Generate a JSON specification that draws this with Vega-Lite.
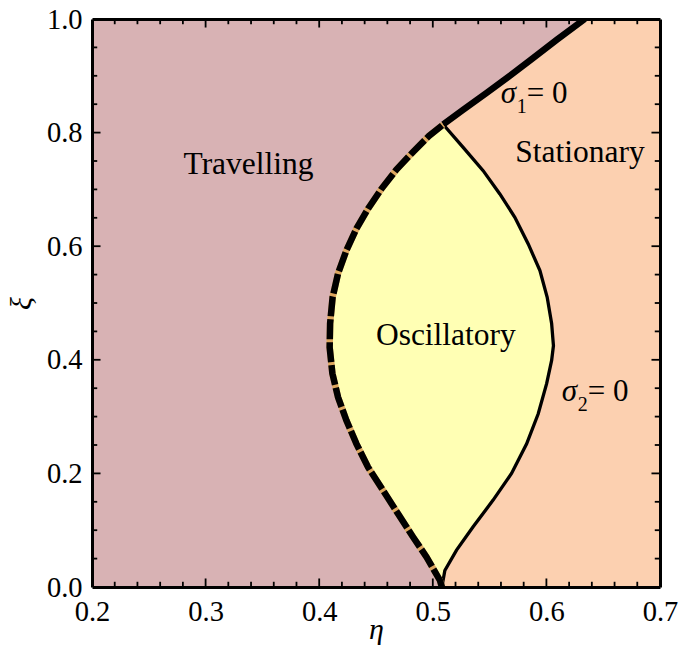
{
  "$schema": "https://vega.github.io/schema/vega-lite/v6.json",
  "width": 568,
  "height": 568,
  "autosize": {"type": "none"},
  "padding": {"left": 92, "top": 19, "right": 28, "bottom": 61},
  "background": "white",
  "config": {
    "font": "Liberation Serif",
    "view": {"stroke": null, "fill": "#d8b2b4"},
    "axis": {
      "grid": false,
      "domainColor": "black", "domainWidth": 3, "domainOpacity": 1,
      "labelFont": "Liberation Serif", "labelFontSize": 28.5, "labelColor": "black",
      "labelFlush": false, "labelOverlap": false,
      "titleFont": "Liberation Serif", "titleColor": "black", "titleFontWeight": "normal",
      "titleFontStyle": "italic", "titleFontSize": 30
    },
    "text": {"font": "Liberation Serif", "color": "black"}
  },
  "datasets": {
    "curves": [
      {"curve": "dashed", "eta": 0.508, "xi": 0.0},
      {"curve": "dashed", "eta": 0.5062, "xi": 0.012},
      {"curve": "dashed", "eta": 0.4944, "xi": 0.053},
      {"curve": "dashed", "eta": 0.4826, "xi": 0.088},
      {"curve": "dashed", "eta": 0.4694, "xi": 0.129},
      {"curve": "dashed", "eta": 0.4562, "xi": 0.170},
      {"curve": "dashed", "eta": 0.443, "xi": 0.211},
      {"curve": "dashed", "eta": 0.4328, "xi": 0.252},
      {"curve": "dashed", "eta": 0.424, "xi": 0.293},
      {"curve": "dashed", "eta": 0.4166, "xi": 0.334},
      {"curve": "dashed", "eta": 0.4116, "xi": 0.376},
      {"curve": "dashed", "eta": 0.4092, "xi": 0.422},
      {"curve": "dashed", "eta": 0.4096, "xi": 0.464},
      {"curve": "dashed", "eta": 0.4118, "xi": 0.510},
      {"curve": "dashed", "eta": 0.4166, "xi": 0.552},
      {"curve": "dashed", "eta": 0.424, "xi": 0.593},
      {"curve": "dashed", "eta": 0.4328, "xi": 0.631},
      {"curve": "dashed", "eta": 0.443, "xi": 0.666},
      {"curve": "dashed", "eta": 0.4548, "xi": 0.701},
      {"curve": "dashed", "eta": 0.468, "xi": 0.735},
      {"curve": "dashed", "eta": 0.4826, "xi": 0.766},
      {"curve": "dashed", "eta": 0.4966, "xi": 0.794},
      {"curve": "dashed", "eta": 0.5092, "xi": 0.8143},
      {"curve": "sigma2", "eta": 0.508, "xi": 0.0},
      {"curve": "sigma2", "eta": 0.5106, "xi": 0.029},
      {"curve": "sigma2", "eta": 0.5209, "xi": 0.065},
      {"curve": "sigma2", "eta": 0.5355, "xi": 0.106},
      {"curve": "sigma2", "eta": 0.5531, "xi": 0.153},
      {"curve": "sigma2", "eta": 0.5693, "xi": 0.200},
      {"curve": "sigma2", "eta": 0.5826, "xi": 0.252},
      {"curve": "sigma2", "eta": 0.5928, "xi": 0.305},
      {"curve": "sigma2", "eta": 0.6002, "xi": 0.358},
      {"curve": "sigma2", "eta": 0.6046, "xi": 0.399},
      {"curve": "sigma2", "eta": 0.6062, "xi": 0.425},
      {"curve": "sigma2", "eta": 0.6046, "xi": 0.464},
      {"curve": "sigma2", "eta": 0.6007, "xi": 0.510},
      {"curve": "sigma2", "eta": 0.5943, "xi": 0.557},
      {"curve": "sigma2", "eta": 0.584, "xi": 0.604},
      {"curve": "sigma2", "eta": 0.5722, "xi": 0.651},
      {"curve": "sigma2", "eta": 0.559, "xi": 0.692},
      {"curve": "sigma2", "eta": 0.5443, "xi": 0.733},
      {"curve": "sigma2", "eta": 0.5267, "xi": 0.774},
      {"curve": "sigma2", "eta": 0.5092, "xi": 0.8143},
      {"curve": "sigma1", "eta": 0.5092, "xi": 0.8143},
      {"curve": "sigma1", "eta": 0.5266, "xi": 0.8398},
      {"curve": "sigma1", "eta": 0.5477, "xi": 0.8703},
      {"curve": "sigma1", "eta": 0.568, "xi": 0.9002},
      {"curve": "sigma1", "eta": 0.5882, "xi": 0.931},
      {"curve": "sigma1", "eta": 0.6093, "xi": 0.9636},
      {"curve": "sigma1", "eta": 0.6338, "xi": 1.0}
    ],
    "xticks": [
      {"v": 0.22, "k": "minor"}, {"v": 0.24, "k": "minor"}, {"v": 0.26, "k": "minor"}, {"v": 0.28, "k": "minor"},
      {"v": 0.3, "k": "major"},
      {"v": 0.32, "k": "minor"}, {"v": 0.34, "k": "minor"}, {"v": 0.36, "k": "minor"}, {"v": 0.38, "k": "minor"},
      {"v": 0.4, "k": "major"},
      {"v": 0.42, "k": "minor"}, {"v": 0.44, "k": "minor"}, {"v": 0.46, "k": "minor"}, {"v": 0.48, "k": "minor"},
      {"v": 0.5, "k": "major"},
      {"v": 0.52, "k": "minor"}, {"v": 0.54, "k": "minor"}, {"v": 0.56, "k": "minor"}, {"v": 0.58, "k": "minor"},
      {"v": 0.6, "k": "major"},
      {"v": 0.62, "k": "minor"}, {"v": 0.64, "k": "minor"}, {"v": 0.66, "k": "minor"}, {"v": 0.68, "k": "minor"}
    ],
    "yticks": [
      {"v": 0.05, "k": "minor"}, {"v": 0.1, "k": "minor"}, {"v": 0.15, "k": "minor"},
      {"v": 0.2, "k": "major"},
      {"v": 0.25, "k": "minor"}, {"v": 0.3, "k": "minor"}, {"v": 0.35, "k": "minor"},
      {"v": 0.4, "k": "major"},
      {"v": 0.45, "k": "minor"}, {"v": 0.5, "k": "minor"}, {"v": 0.55, "k": "minor"},
      {"v": 0.6, "k": "major"},
      {"v": 0.65, "k": "minor"}, {"v": 0.7, "k": "minor"}, {"v": 0.75, "k": "minor"},
      {"v": 0.8, "k": "major"},
      {"v": 0.85, "k": "minor"}, {"v": 0.9, "k": "minor"}, {"v": 0.95, "k": "minor"}
    ],
    "regions": [
      {"label": "Travelling", "eta": 0.3378, "xi": 0.7276},
      {"label": "Stationary", "eta": 0.6295, "xi": 0.749},
      {"label": "Oscillatory", "eta": 0.5115, "xi": 0.4266}
    ],
    "sigmas": [
      {"name": "sigma1", "eta": 0.5598, "xi": 0.8516, "sub": "1"},
      {"name": "sigma2", "eta": 0.6135, "xi": 0.328, "sub": "2"}
    ]
  },
  "data": {"name": "curves"},
  "layer": [
    {
      "transform": [{"filter": "datum.curve === 'dashed'"}],
      "mark": {"type": "area", "orient": "horizontal", "color": "#ffffb4"},
      "encoding": {
        "y": {
          "field": "xi", "type": "quantitative",
          "scale": {"domain": [0, 1], "nice": false, "zero": false},
          "axis": {
            "orient": "left", "values": [0, 0.2, 0.4, 0.6, 0.8, 1.0], "zindex": 3,
            "ticks": false, "labelPadding": 10, "format": ".1f",
            "domain": true, "title": "ξ",
            "titleAngle": 270, "titleAlign": "center", "titleBaseline": "middle",
            "titleX": -71, "titleY": 284
          }
        },
        "x": {
          "field": "eta", "type": "quantitative", "stack": null,
          "scale": {"domain": [0.2, 0.7], "nice": false, "zero": false},
          "axis": {
            "orient": "bottom", "values": [0.2, 0.3, 0.4, 0.5, 0.6, 0.7], "zindex": 3,
            "ticks": false, "labelPadding": 10, "format": ".1f",
            "domain": true, "title": "η",
            "titleBaseline": "alphabetic", "titleY": 51
          }
        },
        "x2": {"datum": 0.7}
      }
    },
    {
      "transform": [{"filter": "datum.curve === 'sigma2' || datum.curve === 'sigma1'"}],
      "mark": {"type": "area", "orient": "horizontal", "color": "#fcd0b0"},
      "encoding": {
        "y": {
          "field": "xi", "type": "quantitative",
          "axis": {
            "orient": "right", "values": [0, 1.0], "zindex": 3,
            "ticks": false, "labels": false, "domain": true, "title": null
          }
        },
        "x": {
          "field": "eta", "type": "quantitative", "stack": null,
          "axis": {
            "orient": "top", "values": [0.2, 0.7], "zindex": 3,
            "ticks": false, "labels": false, "domain": true, "title": null
          }
        },
        "x2": {"datum": 0.7}
      }
    },
    {
      "transform": [{"filter": "datum.curve === 'sigma2'"}],
      "mark": {"type": "line", "color": "black", "strokeWidth": 3.3, "clip": true},
      "encoding": {
        "x": {"field": "eta", "type": "quantitative", "axis": null},
        "y": {"field": "xi", "type": "quantitative", "axis": null},
        "order": {"field": "xi", "type": "quantitative"}
      }
    },
    {
      "transform": [{"filter": "datum.curve === 'dashed'"}],
      "mark": {"type": "line", "color": "#dca65e", "strokeWidth": 6.5, "clip": true},
      "encoding": {
        "x": {"field": "eta", "type": "quantitative", "axis": null},
        "y": {"field": "xi", "type": "quantitative", "axis": null},
        "order": {"field": "xi", "type": "quantitative"}
      }
    },
    {
      "transform": [{"filter": "datum.curve === 'dashed'"}],
      "mark": {"type": "line", "color": "black", "strokeWidth": 6.5, "strokeDash": [20, 3], "clip": true},
      "encoding": {
        "x": {"field": "eta", "type": "quantitative", "axis": null},
        "y": {"field": "xi", "type": "quantitative", "axis": null},
        "order": {"field": "xi", "type": "quantitative"}
      }
    },
    {
      "transform": [{"filter": "datum.curve === 'sigma1'"}],
      "mark": {"type": "line", "color": "black", "strokeWidth": 6.5, "clip": true},
      "encoding": {
        "x": {"field": "eta", "type": "quantitative", "axis": null},
        "y": {"field": "xi", "type": "quantitative", "axis": null},
        "order": {"field": "xi", "type": "quantitative"}
      }
    },
    {
      "data": {"name": "xticks"},
      "transform": [{"filter": "datum.k === 'major'"}],
      "mark": {"type": "rule", "color": "black", "strokeWidth": 1.8},
      "encoding": {
        "x": {"field": "v", "type": "quantitative", "axis": null},
        "y": {"datum": 0, "type": "quantitative", "axis": null},
        "y2": {"datum": 0.015}
      }
    },
    {
      "data": {"name": "xticks"},
      "transform": [{"filter": "datum.k === 'minor'"}],
      "mark": {"type": "rule", "color": "black", "strokeWidth": 1.8},
      "encoding": {
        "x": {"field": "v", "type": "quantitative", "axis": null},
        "y": {"datum": 0, "type": "quantitative", "axis": null},
        "y2": {"datum": 0.0092}
      }
    },
    {
      "data": {"name": "xticks"},
      "transform": [{"filter": "datum.k === 'major'"}],
      "mark": {"type": "rule", "color": "black", "strokeWidth": 1.8},
      "encoding": {
        "x": {"field": "v", "type": "quantitative", "axis": null},
        "y": {"datum": 1, "type": "quantitative", "axis": null},
        "y2": {"datum": 0.985}
      }
    },
    {
      "data": {"name": "xticks"},
      "transform": [{"filter": "datum.k === 'minor'"}],
      "mark": {"type": "rule", "color": "black", "strokeWidth": 1.8},
      "encoding": {
        "x": {"field": "v", "type": "quantitative", "axis": null},
        "y": {"datum": 1, "type": "quantitative", "axis": null},
        "y2": {"datum": 0.9908}
      }
    },
    {
      "data": {"name": "yticks"},
      "transform": [{"filter": "datum.k === 'major'"}],
      "mark": {"type": "rule", "color": "black", "strokeWidth": 1.8},
      "encoding": {
        "y": {"field": "v", "type": "quantitative", "axis": null},
        "x": {"datum": 0.2, "type": "quantitative", "axis": null},
        "x2": {"datum": 0.2075}
      }
    },
    {
      "data": {"name": "yticks"},
      "transform": [{"filter": "datum.k === 'minor'"}],
      "mark": {"type": "rule", "color": "black", "strokeWidth": 1.8},
      "encoding": {
        "y": {"field": "v", "type": "quantitative", "axis": null},
        "x": {"datum": 0.2, "type": "quantitative", "axis": null},
        "x2": {"datum": 0.2046}
      }
    },
    {
      "data": {"name": "yticks"},
      "transform": [{"filter": "datum.k === 'major'"}],
      "mark": {"type": "rule", "color": "black", "strokeWidth": 1.8},
      "encoding": {
        "y": {"field": "v", "type": "quantitative", "axis": null},
        "x": {"datum": 0.7, "type": "quantitative", "axis": null},
        "x2": {"datum": 0.6925}
      }
    },
    {
      "data": {"name": "yticks"},
      "transform": [{"filter": "datum.k === 'minor'"}],
      "mark": {"type": "rule", "color": "black", "strokeWidth": 1.8},
      "encoding": {
        "y": {"field": "v", "type": "quantitative", "axis": null},
        "x": {"datum": 0.7, "type": "quantitative", "axis": null},
        "x2": {"datum": 0.6954}
      }
    },
    {
      "data": {"name": "regions"},
      "mark": {"type": "text", "fontSize": 31.5, "align": "center", "baseline": "alphabetic"},
      "encoding": {
        "x": {"field": "eta", "type": "quantitative", "axis": null},
        "y": {"field": "xi", "type": "quantitative", "axis": null},
        "text": {"field": "label"}
      }
    },
    {
      "data": {"name": "sigmas"},
      "mark": {"type": "text", "fontSize": 31, "fontStyle": "italic", "align": "left", "baseline": "alphabetic", "text": "σ"},
      "encoding": {
        "x": {"field": "eta", "type": "quantitative", "axis": null},
        "y": {"field": "xi", "type": "quantitative", "axis": null}
      }
    },
    {
      "data": {"name": "sigmas"},
      "mark": {"type": "text", "fontSize": 20, "align": "left", "baseline": "alphabetic", "dx": 16, "dy": 10},
      "encoding": {
        "x": {"field": "eta", "type": "quantitative", "axis": null},
        "y": {"field": "xi", "type": "quantitative", "axis": null},
        "text": {"field": "sub"}
      }
    },
    {
      "data": {"name": "sigmas"},
      "mark": {"type": "text", "fontSize": 31, "align": "left", "baseline": "alphabetic", "dx": 26, "text": "= 0"},
      "encoding": {
        "x": {"field": "eta", "type": "quantitative", "axis": null},
        "y": {"field": "xi", "type": "quantitative", "axis": null}
      }
    }
  ],
  "resolve": {"axis": {"x": "independent", "y": "independent"}}
}
